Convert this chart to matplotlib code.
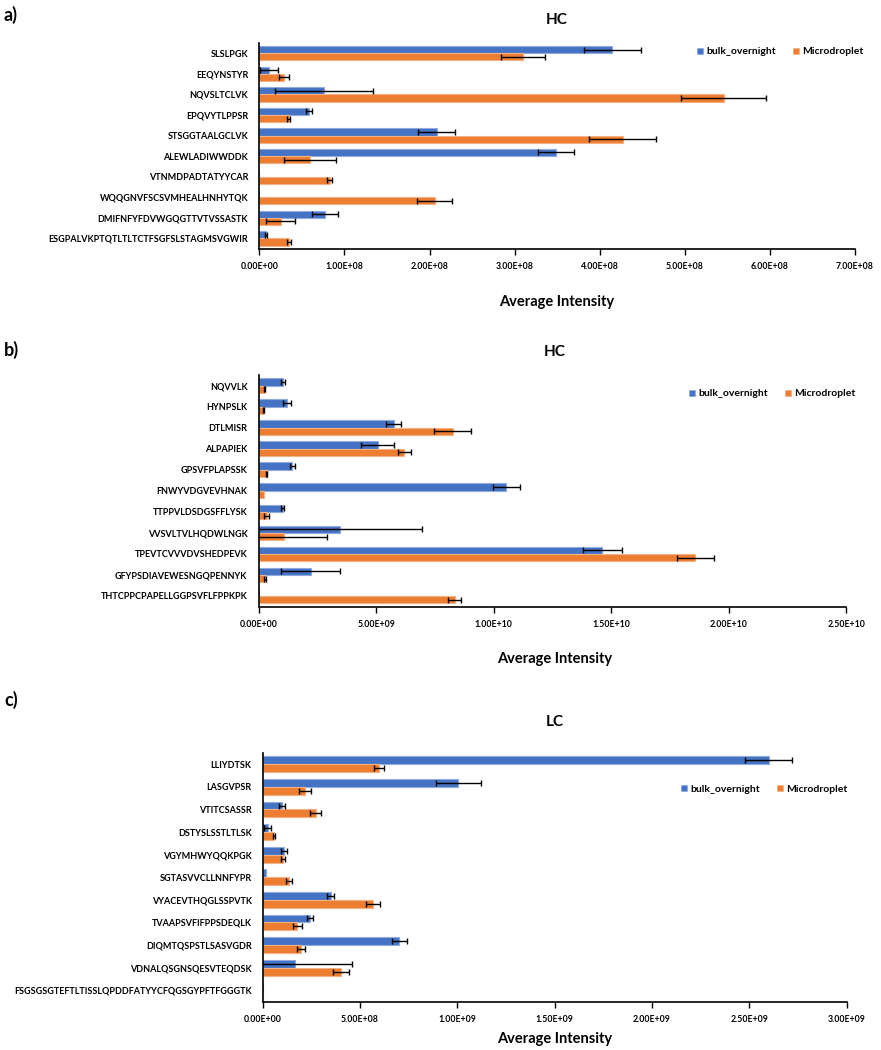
import numpy as np
import matplotlib
matplotlib.use("Agg")
import matplotlib.pyplot as plt
from matplotlib.patches import Patch

plt.rcParams['font.family'] = ['Lato', 'DejaVu Sans']
plt.rcParams['font.weight'] = 'bold'

# ---------------- data ----------------
a_labels = ["SLSLPGK", "EEQYNSTYR", "NQVSLTCLVK", "EPQVYTLPPSR", "STSGGTAALGCLVK",
            "ALEWLADIWWDDK", "VTNMDPADTATYYCAR", "WQQGNVFSCSVMHEALHNHYTQK",
            "DMIFNFYFDVWGQGTTVTVSSASTK", "ESGPALVKPTQTLTLTCTFSGFSLSTAGMSVGWIR"]
a_bulk = [4.15e8, 0.11e8, 0.76e8, 0.58e8, 2.085e8, 3.49e8, 0.0, 0.0, 0.77e8, 0.08e8]
a_bulk_err = [0.33e8, 0.105e8, 0.58e8, 0.035e8, 0.22e8, 0.21e8, 0.0, 0.0, 0.156e8, 0.01e8]
a_micro = [3.10e8, 0.287e8, 5.46e8, 0.345e8, 4.27e8, 0.596e8, 0.83e8, 2.06e8, 0.25e8, 0.35e8]
a_micro_err = [0.26e8, 0.06e8, 0.50e8, 0.02e8, 0.39e8, 0.305e8, 0.03e8, 0.21e8, 0.17e8, 0.02e8]
a_ticks = [0, 1e8, 2e8, 3e8, 4e8, 5e8, 6e8, 7e8]
a_ticklabels = ["0.00E+00", "1.00E+08", "2.00E+08", "3.00E+08", "4.00E+08", "5.00E+08", "6.00E+08", "7.00E+08"]

b_labels = ["NQVVLK", "HYNPSLK", "DTLMISR", "ALPAPIEK", "GPSVFPLAPSSK", "FNWYVDGVEVHNAK",
            "TTPPVLDSDGSFFLYSK", "VVSVLTVLHQDWLNGK", "TPEVTCVVVDVSHEDPEVK",
            "GFYPSDIAVEWESNGQPENNYK", "THTCPPCPAPELLGGPSVFLFPPKPK"]
b_bulk = [1.05e9, 1.22e9, 5.75e9, 5.06e9, 1.44e9, 10.54e9, 1.02e9, 3.46e9, 14.62e9, 2.21e9, 0.0]
b_bulk_err = [0.08e9, 0.17e9, 0.31e9, 0.69e9, 0.10e9, 0.59e9, 0.05e9, 3.47e9, 0.82e9, 1.24e9, 0.0]
b_micro = [0.27e9, 0.225e9, 8.25e9, 6.19e9, 0.34e9, 0.24e9, 0.34e9, 1.06e9, 18.58e9, 0.27e9, 8.34e9]
b_micro_err = [0.02e9, 0.02e9, 0.80e9, 0.28e9, 0.03e9, 0.0, 0.10e9, 1.85e9, 0.79e9, 0.03e9, 0.27e9]
b_ticks = [0, 5e9, 1e10, 1.5e10, 2e10, 2.5e10]
b_ticklabels = ["0.00E+00", "5.00E+09", "1.00E+10", "1.50E+10", "2.00E+10", "2.50E+10"]

c_labels = ["LLIYDTSK", "LASGVPSR", "VTITCSASSR", "DSTYSLSSTLTLSK", "VGYMHWYQQKPGK",
            "SGTASVVCLLNNFYPR", "VYACEVTHQGLSSPVTK", "TVAAPSVFIFPPSDEQLK",
            "DIQMTQSPSTLSASVGDR", "VDNALQSGNSQESVTEQDSK",
            "FSGSGSGTEFTLTISSLQPDDFATYYCFQGSGYPFTFGGGTK"]
c_bulk = [2.60e9, 1.005e9, 0.975e8, 0.26e8, 1.09e8, 0.17e8, 3.49e8, 2.43e8, 7.02e8, 1.68e8, 0.0]
c_bulk_err = [0.12e9, 0.117e9, 0.15e8, 0.17e8, 0.15e8, 0.0, 0.17e8, 0.17e8, 0.40e8, 2.92e8, 0.0]
c_micro = [5.99e8, 2.19e8, 2.72e8, 0.58e8, 1.04e8, 1.37e8, 5.66e8, 1.78e8, 1.98e8, 4.00e8, 0.0]
c_micro_err = [0.25e8, 0.31e8, 0.30e8, 0.05e8, 0.12e8, 0.15e8, 0.34e8, 0.22e8, 0.21e8, 0.41e8, 0.0]
c_ticks = [0, 5e8, 1e9, 1.5e9, 2e9, 2.5e9, 3e9]
c_ticklabels = ["0.00E+00", "5.00E+08", "1.00E+09", "1.50E+09", "2.00E+09", "2.50E+09", "3.00E+09"]

series_names = ["bulk_overnight", "Microdroplet"]

# ---------------- style ----------------
BLUE = "#4472C4"
ORANGE = "#ED7D31"
BLUE_EDGE = "#8FAADC"
ORANGE_EDGE = "#F4B183"

W, H = 881, 1050
fig = plt.figure(figsize=(W / 100, H / 100), dpi=100)


def px_axes(left, top, right, bottom):
    return fig.add_axes([left / W, 1 - bottom / H, (right - left) / W, (bottom - top) / H])


def draw_panel(ax, labels, bulk, bulk_err, micro, micro_err, ticks, ticklabels):
    n = len(labels)
    y = np.arange(n)
    h = 0.35
    off = 0.175
    bulk = np.array(bulk, float)
    micro = np.array(micro, float)
    be = np.array(bulk_err, float)
    me = np.array(micro_err, float)
    ax.barh(y - off, bulk, height=h, color=BLUE, edgecolor=BLUE_EDGE, linewidth=0.8, zorder=2)
    ax.barh(y + off, micro, height=h, color=ORANGE, edgecolor=ORANGE_EDGE, linewidth=0.8, zorder=2)
    mb = be > 0
    mm = me > 0
    ax.errorbar(bulk[mb], (y - off)[mb], xerr=be[mb], fmt='none', ecolor='black',
                elinewidth=1.0, capsize=2.5, capthick=1.0, zorder=3)
    ax.errorbar(micro[mm], (y + off)[mm], xerr=me[mm], fmt='none', ecolor='black',
                elinewidth=1.0, capsize=2.5, capthick=1.0, zorder=3)
    ax.set_ylim(n - 0.5, -0.5)
    ax.set_xlim(ticks[0], ticks[-1])
    ax.set_yticks(y)
    ax.set_yticklabels(labels, fontsize=6.5, fontweight='bold')
    ax.tick_params(axis='y', length=0, pad=8)
    ax.set_xticks(ticks)
    ax.set_xticklabels(ticklabels, fontsize=6.3, fontweight='bold')
    ax.tick_params(axis='x', length=4, width=1, direction='out', pad=6)
    for s in ['top', 'right']:
        ax.spines[s].set_visible(False)
    for s in ['left', 'bottom']:
        ax.spines[s].set_linewidth(1.2)
        ax.spines[s].set_color('black')


def add_legend(x_px, y_px):
    handles = [Patch(facecolor=BLUE, edgecolor=BLUE_EDGE, linewidth=0.5),
               Patch(facecolor=ORANGE, edgecolor=ORANGE_EDGE, linewidth=0.5)]
    fig.legend(handles, series_names, loc='center left',
               bbox_to_anchor=(x_px / W, 1 - y_px / H), ncol=2, frameon=False,
               handlelength=0.6, handleheight=0.6, handletextpad=0.3, columnspacing=1.6,
               borderpad=0, borderaxespad=0,
               prop={'size': 7.5, 'weight': 'bold'})


def ftext(x_px, y_px, s, size, ha='center'):
    fig.text(x_px / W, 1 - y_px / H, s, fontsize=size, fontweight='bold', ha=ha, va='center')


# Panel a
ax_a = px_axes(259.3, 43, 855, 248.6)
draw_panel(ax_a, a_labels, a_bulk, a_bulk_err, a_micro, a_micro_err, a_ticks, a_ticklabels)
add_legend(697, 52)
ftext(4, 15, "a)", 13, ha='left')
ftext(557, 20, "HC", 11)
ftext(557, 302, "Average Intensity", 10.5)

# Panel b
ax_b = px_axes(258.6, 375.2, 846.3, 606.5)
draw_panel(ax_b, b_labels, b_bulk, b_bulk_err, b_micro, b_micro_err, b_ticks, b_ticklabels)
add_legend(689, 394)
ftext(4, 350, "b)", 13, ha='left')
ftext(555, 352, "HC", 11)
ftext(555, 659, "Average Intensity", 10.5)

# Panel c
ax_c = px_axes(262.7, 753, 846.7, 1001.5)
draw_panel(ax_c, c_labels, c_bulk, c_bulk_err, c_micro, c_micro_err, c_ticks, c_ticklabels)
add_legend(681, 789)
ftext(4, 700, "c)", 13, ha='left')
ftext(555, 722, "LC", 11)
ftext(555, 1039, "Average Intensity", 10.5)

fig.savefig("out.png", dpi=100)
